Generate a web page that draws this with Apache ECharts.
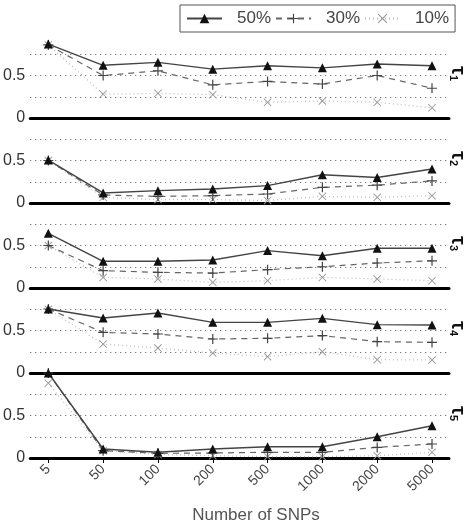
<!DOCTYPE html>
<html>
<head>
<meta charset="utf-8">
<script src="https://cdn.jsdelivr.net/npm/echarts@6/dist/echarts.min.js"></script>
<style>
  html, body { margin: 0; padding: 0; background: #fff; }
  #chart { width: 471px; height: 525px; }
</style>
</head>
<body>
<div id="chart"></div>
<script>
// number of SNPs (category order along the x axis)
var snps = ['5', '50', '100', '200', '500', '1000', '2000', '5000'];
var levels = ['50%', '30%', '10%'];

// tau 1..5, one array per missing level
var tau1_50 = [0.87, 0.62, 0.655, 0.575, 0.615, 0.59, 0.635, 0.615];
var tau1_30 = [0.86, 0.50, 0.555, 0.39, 0.43, 0.40, 0.50, 0.35];
var tau1_10 = [0.86, 0.28, 0.29, 0.275, 0.185, 0.20, 0.185, 0.12];

var tau2_50 = [0.505, 0.118, 0.145, 0.165, 0.205, 0.333, 0.30, 0.40];
var tau2_30 = [0.50, 0.094, 0.078, 0.086, 0.106, 0.184, 0.21, 0.26];
var tau2_10 = [0.50, 0.067, 0.04, 0.04, 0.03, 0.078, 0.067, 0.086];

var tau3_50 = [0.643, 0.314, 0.314, 0.33, 0.44, 0.38, 0.467, 0.467];
var tau3_30 = [0.50, 0.204, 0.184, 0.176, 0.216, 0.25, 0.294, 0.32];
var tau3_10 = [0.50, 0.125, 0.106, 0.067, 0.086, 0.125, 0.106, 0.086];

var tau4_50 = [0.753, 0.647, 0.706, 0.596, 0.596, 0.643, 0.569, 0.565];
var tau4_30 = [0.753, 0.478, 0.459, 0.40, 0.408, 0.44, 0.369, 0.36];
var tau4_10 = [0.75, 0.341, 0.294, 0.235, 0.192, 0.25, 0.157, 0.153];

var tau5_50 = [1.0, 0.106, 0.067, 0.106, 0.133, 0.133, 0.25, 0.38];
var tau5_30 = [1.0, 0.086, 0.055, 0.059, 0.067, 0.067, 0.125, 0.165];
var tau5_10 = [0.88, 0.086, 0.04, 0.027, 0.016, 0.016, 0.027, 0.067];

var panels = [
    [tau1_50, tau1_30, tau1_10],
    [tau2_50, tau2_30, tau2_10],
    [tau3_50, tau3_30, tau3_10],
    [tau4_50, tau4_30, tau4_10],
    [tau5_50, tau5_30, tau5_10]
];

var FONT = '"Liberation Sans", Arial, sans-serif';
var TOP = 33, PH = 85, LEFT = 27, W = 422;

var PLUS = 'path://M4.4,0H5.6V4.4H10V5.6H5.6V10H4.4V5.6H0V4.4H4.4Z';
var CROSS = 'path://M0,0.8L0.8,0L5,4.2L9.2,0L10,0.8L5.8,5L10,9.2L9.2,10L5,5.8L0.8,10L0,9.2L4.2,5Z';

var styles = [
    {symbol: 'triangle', size: 9, color: '#111', line: {color: '#444', width: 1.4, type: 'solid'}},
    {symbol: PLUS, size: 10, color: '#444', line: {color: '#666', width: 1.2, type: [6, 5]}},
    {symbol: CROSS, size: 8, color: '#999', line: {color: '#bbb', width: 1.2, type: [1, 3]}}
];

var ticks = snps.map(function (s, i) { return i; });

var grids = [], xAxes = [], yAxes = [], series = [], graphics = [];
panels.forEach(function (p, k) {
    var last = k === panels.length - 1;
    grids.push({left: LEFT, top: TOP + PH * k, width: W, height: PH});
    xAxes.push({
        type: 'value', gridIndex: k, min: -0.33, max: 7.31,
        splitLine: {show: false},
        axisLine: {lineStyle: {color: '#000', width: 3}},
        axisTick: {show: last, customValues: ticks, length: 5, lineStyle: {color: '#000', width: 1}},
        axisLabel: {
            show: last, customValues: ticks, rotate: 45, margin: 9,
            fontSize: 14, color: '#444', fontFamily: FONT,
            formatter: function (v) { return snps[Math.round(v)]; }
        }
    });
    yAxes.push({
        type: 'value', gridIndex: k, min: 0, max: 1, interval: 0.25,
        axisLine: {show: false}, axisTick: {show: false},
        axisLabel: {
            margin: 5, fontSize: 16, color: '#333', fontFamily: FONT,
            formatter: function (v) { return v === 0 ? '0' : (v === 0.5 ? '0.5' : ''); }
        },
        splitLine: {lineStyle: {type: [1, 4], width: 1,
            color: ['rgba(0,0,0,0)', '#555', '#555', '#555', 'rgba(0,0,0,0)']}}
    });
    p.forEach(function (vals, j) {
        var st = styles[j];
        series.push({
            name: levels[j], type: 'line', xAxisIndex: k, yAxisIndex: k,
            data: vals.map(function (v, i) { return [i, v]; }),
            symbol: st.symbol, symbolSize: st.size, clip: false,
            itemStyle: {color: st.color},
            lineStyle: st.line,
            z: 10 - j,
            animation: false
        });
    });
    graphics.push({
        type: 'text', x: 458, y: TOP + PH * k + PH * 0.5 - 2, rotation: -Math.PI / 2,
        style: {
            text: '{t|τ}{s|' + (k + 1) + '}', align: 'center', verticalAlign: 'middle',
            rich: {
                t: {fontSize: 20, fontWeight: 'bold', fill: '#111', fontFamily: FONT},
                s: {fontSize: 11, fontWeight: 'bold', fill: '#111', fontFamily: FONT, padding: [10, 0, 0, 0]}
            }
        }
    });
});

graphics.push({
    type: 'text', x: 256, y: 515,
    style: {text: 'Number of SNPs', align: 'center', verticalAlign: 'middle',
        fontSize: 17, fill: '#555', fontFamily: FONT}
});

var chart = echarts.init(document.getElementById('chart'));
chart.setOption({
    backgroundColor: '#fff',
    animation: false,
    legend: {
        data: levels, left: 180, top: 5,
        padding: [5, 6, 5, 6], itemGap: 4, itemWidth: 35, itemHeight: 12,
        borderColor: '#555', borderWidth: 1, backgroundColor: '#fff',
        textStyle: {fontSize: 17, color: '#444', fontFamily: FONT, padding: [0, 0, 0, 10]}
    },
    grid: grids,
    xAxis: xAxes,
    yAxis: yAxes,
    series: series,
    graphic: graphics
});
</script>
</body>
</html>
